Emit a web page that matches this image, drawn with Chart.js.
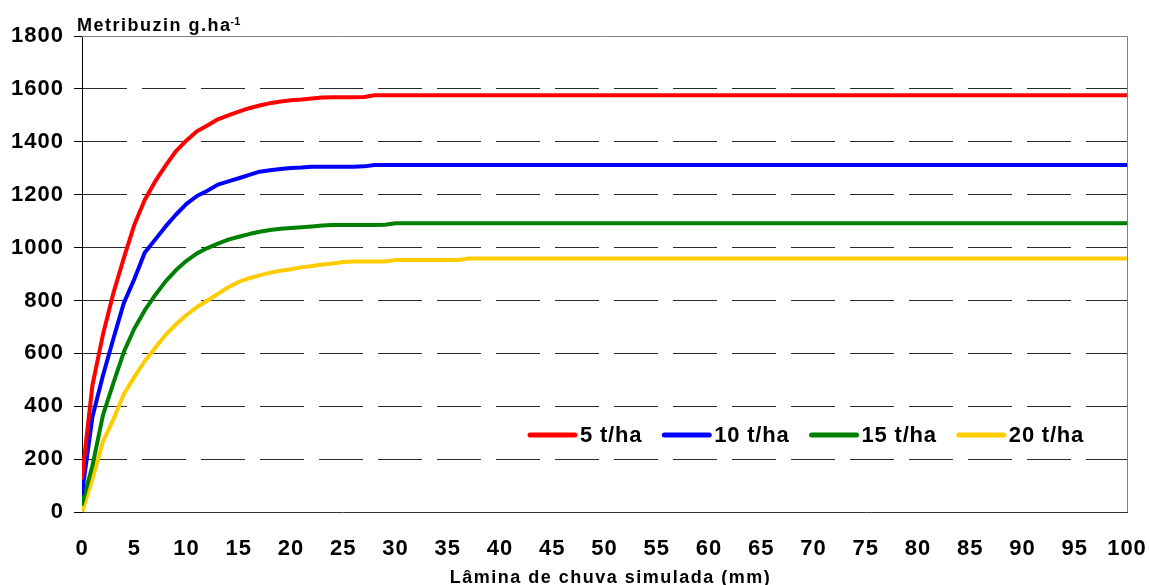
<!DOCTYPE html>
<html>
<head>
<meta charset="utf-8">
<script src="https://cdn.jsdelivr.net/npm/chart.js@4/dist/chart.umd.min.js"></script>
<style>
  html, body { margin: 0; padding: 0; background: #fff; }
  #wrap { width: 1150px; height: 585px; position: relative; }
</style>
</head>
<body>
<div id="wrap"><canvas id="chart"></canvas></div>
<script>
// rainfall depth (mm)
const lamina = [0,1,2,3,4,5,6,7,8,9,10,11,12,13,14,15,16,17,18,19,20,21,22,23,24,25,26,27,28,29,30,31,32,33,34,35,36,37,38,39,40,100];

// metribuzin (g/ha) per straw amount
const palha5 = [130,480,670,827,960,1085,1180,1250,1310,1365,1405,1440,1462,1485,1500,1514,1527,1537,1546,1552,1557,1560,1564,1567,1568,1568,1568,1569,1576,1576,1576,1576,1576,1576,1576,1576,1576,1576,1576,1576,1576,1576];
const palha10 = [70,360,515,655,790,880,980,1030,1080,1125,1165,1195,1215,1238,1250,1262,1275,1287,1292,1297,1301,1303,1306,1306,1306,1306,1306,1307,1312,1312,1312,1312,1312,1312,1312,1312,1312,1312,1312,1312,1312,1312];
const palha15 = [30,175,365,487,605,693,762,820,872,915,950,978,998,1015,1030,1041,1051,1060,1066,1071,1074,1077,1080,1083,1085,1085,1085,1085,1085,1086,1092,1092,1092,1092,1092,1092,1092,1092,1092,1092,1092,1092];
const palha20 = [0,125,265,350,445,510,570,620,670,710,745,775,800,825,850,870,884,895,905,912,918,925,930,936,940,945,947,947,947,947,953,953,953,953,953,953,953,959,959,959,959,959];

const labels = ['5 t/ha', '10 t/ha', '15 t/ha', '20 t/ha'];
const colors = ['#ff0000', '#0000ff', '#008000', '#ffcc00'];
const series = [palha5, palha10, palha15, palha20];

const FONT = '"Liberation Sans", Arial, sans-serif';

// titles, frame and in-plot legend
const decor = {
  id: 'decor',
  beforeDraw(chart) {
    chart.ctx.letterSpacing = '1px';
  },
  beforeDatasetsDraw(chart) {
    const { ctx, chartArea: a } = chart;
    ctx.save();
    ctx.strokeStyle = '#808080';
    ctx.lineWidth = 1;
    ctx.beginPath();
    ctx.moveTo(a.left, Math.round(a.top) + 0.5);
    ctx.lineTo(Math.round(a.right) + 0.5, Math.round(a.top) + 0.5);
    ctx.lineTo(Math.round(a.right) + 0.5, a.bottom);
    ctx.stroke();
    ctx.restore();
  },
  afterDraw(chart) {
    const { ctx, chartArea: a } = chart;
    ctx.save();
    ctx.letterSpacing = '1.5px';
    ctx.fillStyle = '#000';
    ctx.textBaseline = 'alphabetic';

    // y title with superscript
    ctx.font = 'bold 18px ' + FONT;
    ctx.textAlign = 'left';
    const t = 'Metribuzin g.ha';
    ctx.fillText(t, 77, 31);
    const w = ctx.measureText(t).width;
    ctx.font = 'bold 11px ' + FONT;
    ctx.letterSpacing = '0px';
    ctx.fillText('-1', 77 + w - 1, 25);

    // x title
    ctx.letterSpacing = '1.5px';
    ctx.font = 'bold 18px ' + FONT;
    ctx.textAlign = 'center';
    ctx.fillText('Lâmina de chuva simulada (mm)', (a.left + a.right) / 2 + 6, 583);

    // legend
    ctx.textAlign = 'left';
    ctx.textBaseline = 'middle';
    ctx.font = 'bold 22px ' + FONT;
    ctx.letterSpacing = '0.8px';
    let x = 530;
    const y = 435;
    chart.data.datasets.forEach(ds => {
      ctx.strokeStyle = ds.borderColor;
      ctx.lineWidth = 5;
      ctx.lineCap = 'round';
      ctx.beginPath();
      ctx.moveTo(x, y);
      ctx.lineTo(x + 45, y);
      ctx.stroke();
      ctx.fillText(ds.label, x + 50, y + 1);
      x += 50 + ctx.measureText(ds.label).width + 22;
    });
    ctx.restore();
  }
};

new Chart(document.getElementById('chart'), {
  type: 'line',
  data: {
    datasets: series.map((vals, i) => ({
      label: labels[i],
      data: lamina.map((xv, j) => ({ x: xv, y: vals[j] })),
      borderColor: colors[i],
      backgroundColor: colors[i],
      borderWidth: 4,
      borderCapStyle: 'round',
      borderJoinStyle: 'round',
      pointRadius: 0,
      tension: 0,
      fill: false
    }))
  },
  options: {
    responsive: true,
    maintainAspectRatio: false,
    animation: false,
    layout: { padding: { top: 36, right: 23, left: 0, bottom: 0 } },
    plugins: {
      legend: { display: false },
      tooltip: { enabled: false }
    },
    scales: {
      x: {
        type: 'linear',
        min: 0,
        max: 100,
        afterFit(s) {
          s.height = 73;
          s.paddingLeft = 0;
          s.paddingRight = 0;
        },
        grid: { display: false, drawTicks: false },
        border: { display: true, color: '#333', width: 1 },
        ticks: {
          stepSize: 5,
          padding: 24,
          color: '#000',
          font: { family: FONT, size: 22, weight: 'bold' },
          maxRotation: 0,
          autoSkip: false
        }
      },
      y: {
        min: 0,
        max: 1800,
        afterFit(s) { s.width = 82; },
        grid: {
          color: ctx => (ctx.tick && (ctx.tick.value === 0 || ctx.tick.value === 1800)) ? 'rgba(0,0,0,0)' : '#2a2a2a',
          lineWidth: 1,
          drawTicks: true,
          tickLength: 8,
          tickColor: '#000'
        },
        border: { display: true, color: '#000', width: 1, dash: [44, 15] },
        ticks: {
          stepSize: 200,
          padding: 10,
          color: '#000',
          callback: v => String(v),
          font: { family: FONT, size: 22, weight: 'bold' }
        }
      }
    }
  },
  plugins: [decor]
});
</script>
</body>
</html>
